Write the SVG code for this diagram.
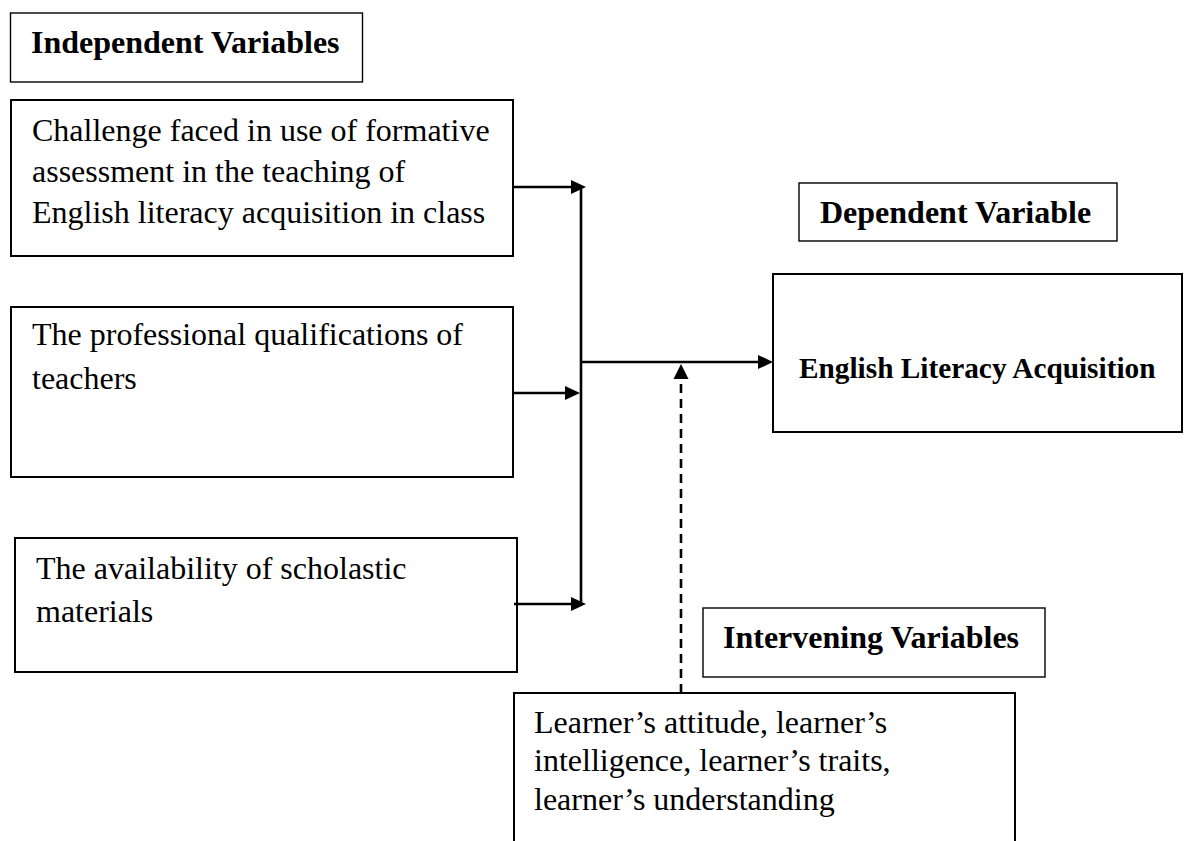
<svg xmlns="http://www.w3.org/2000/svg" width="1185" height="841" viewBox="0 0 1185 841">
  <style>
    .bg { fill: #ffffff; }
    .box { fill: #ffffff; stroke: #000000; stroke-width: 2; }
    .thin { fill: #ffffff; stroke: #000000; stroke-width: 1.4; }
    .t { font-family: "Liberation Serif", "Times New Roman", serif; font-size: 32px; fill: #000000; }
    .b { font-weight: bold; }
    .line { fill: none; stroke: #000000; stroke-width: 2.6; }
    .dash { fill: none; stroke: #000000; stroke-width: 2.6; stroke-dasharray: 9 6; }
    .head { fill: #000000; stroke: none; }
  </style>
  <rect class="bg" x="0" y="0" width="1185" height="841"/>

  <g id="iv-header">
    <rect class="thin" x="10.5" y="13" width="352" height="69"/>
    <text class="t b" x="31" y="53">Independent Variables</text>
  </g>

  <g id="challenge">
    <rect class="box" x="11" y="100" width="502" height="156"/>
    <text class="t" x="32" y="141">Challenge faced in use of formative</text>
    <text class="t" x="32" y="182">assessment in the teaching of</text>
    <text class="t" x="32" y="223">English literacy acquisition in class</text>
  </g>

  <g id="qualifications">
    <rect class="box" x="11" y="307" width="502" height="170"/>
    <text class="t" x="32" y="345">The professional qualifications of</text>
    <text class="t" x="32" y="389">teachers</text>
  </g>

  <g id="materials">
    <rect class="box" x="15" y="538" width="502" height="134"/>
    <text class="t" x="36" y="579">The availability of scholastic</text>
    <text class="t" x="36" y="622">materials</text>
  </g>

  <g id="dv-header">
    <rect class="thin" x="799" y="183" width="318" height="58"/>
    <text class="t b" x="820" y="223">Dependent Variable</text>
  </g>

  <g id="english-literacy">
    <rect class="box" x="773" y="274" width="409" height="158"/>
    <text class="t b" x="799" y="378" style="font-size:29.3px">English Literacy Acquisition</text>
  </g>

  <g id="intervening-header">
    <rect class="thin" x="703" y="608" width="342" height="69"/>
    <text class="t b" x="723" y="648">Intervening Variables</text>
  </g>

  <g id="learner">
    <path class="box" d="M514 845 V693 H1015 V845"/>
    <text class="t" x="534" y="733">Learner’s attitude, learner’s</text>
    <text class="t" x="534" y="771">intelligence, learner’s traits,</text>
    <text class="t" x="534" y="810">learner’s understanding</text>
  </g>

  <g id="connectors">
    <line class="line" x1="581" y1="187" x2="581" y2="605"/>
    <line class="line" x1="513" y1="187" x2="572" y2="187"/>
    <polygon class="head" points="586,187 571,180 571,194"/>
    <line class="line" x1="513" y1="393" x2="566" y2="393"/>
    <polygon class="head" points="580,393 565,386 565,400"/>
    <line class="line" x1="514" y1="604" x2="572" y2="604"/>
    <polygon class="head" points="586,604 571,597 571,611"/>
    <line class="line" x1="581" y1="362" x2="759" y2="362"/>
    <polygon class="head" points="773,362 758,355 758,369"/>
    <line class="dash" x1="681" y1="693" x2="681" y2="380"/>
    <polygon class="head" points="681,364 673.5,379 688.5,379"/>
  </g>
</svg>
